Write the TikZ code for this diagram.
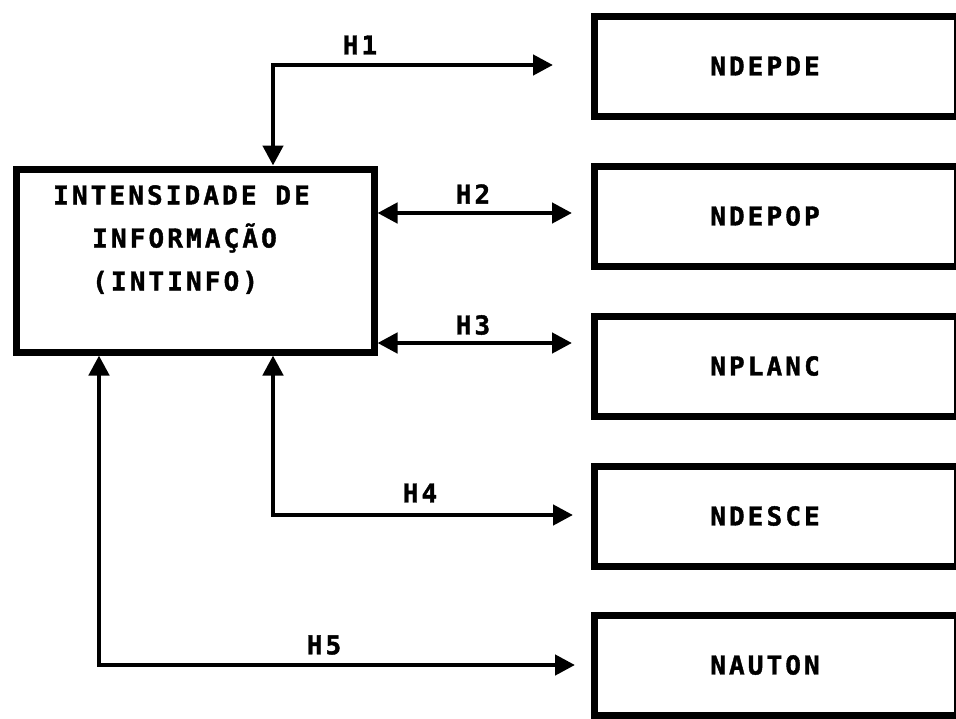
\documentclass[tikz,border=0pt]{standalone}
\usepackage{fontspec}
\usetikzlibrary{arrows.meta,calc}
\newfontfamily\dfont[LetterSpace=12,BoldFeatures={FakeBold=1.5}]{DejaVu Sans Mono}
\begin{document}
\begin{tikzpicture}[x=1pt,y=-1pt,
  >={Triangle[length=20pt,width=20pt]},
  box/.style={draw,line width=7pt,rectangle,inner sep=0pt},
  txt/.style={font=\dfont\bfseries\fontsize{26}{43}\selectfont,inner sep=0pt},
  rbox/.style={box,txt,minimum width=363.5pt,minimum height=100pt},
  conn/.style={line width=4.5pt}]
\useasboundingbox (0,0) rectangle (956,718);
\clip (0,0) rectangle (956,718);
% main box
\node[box,minimum width=358pt,minimum height=183pt] (main) at (195,260.5) {};
\node[txt,align=left,anchor=north west] (maintext) at (53,185)
  {INTENSIDADE DE\\\hspace*{39pt}INFORMAÇÃO\\\hspace*{39pt}(INTINFO)};
% right boxes
\node[rbox] (b1) at (775.75,66)  {\hspace*{-21.5pt}NDEPDE};
\node[rbox] (b2) at (775.75,216) {\hspace*{-21.5pt}NDEPOP};
\node[rbox] (b3) at (775.75,366) {\hspace*{-21.5pt}NPLANC};
\node[rbox] (b4) at (775.75,516) {\hspace*{-21.5pt}NDESCE};
\node[rbox] (b5) at (775.75,665) {\hspace*{-21.5pt}NAUTON};
% helper coordinates
\coordinate (v1) at (273,0);
\coordinate (v5) at (99,0);
\coordinate (y1) at (0,65);
\coordinate (y2) at (0,213);
\coordinate (y3) at (0,343);
\coordinate (y4) at (0,515);
\coordinate (y5) at (0,665);
% connectors
\draw[conn,<->] (main.north -| v1) |- ($(b1.west |- y1)+(-37.5,0)$);
\draw[conn,<->] (main.east |- y2) -- ($(b2.west |- y2)+(-18.5,0)$);
\draw[conn,<->] (main.east |- y3) -- ($(b3.west |- y3)+(-18.5,0)$);
\draw[conn,<->] (main.south -| v1) |- ($(b4.west |- y4)+(-17.5,0)$);
\draw[conn,<->] (main.south -| v5) |- ($(b5.west |- y5)+(-15.5,0)$);
% labels
\node[txt] (l1) at (360,45) {H1};
\node[txt] (l2) at (473,194) {H2};
\node[txt] (l3) at (473,325) {H3};
\node[txt] (l4) at (420,493) {H4};
\node[txt] (l5) at (324,645) {H5};
\end{tikzpicture}
\end{document}
